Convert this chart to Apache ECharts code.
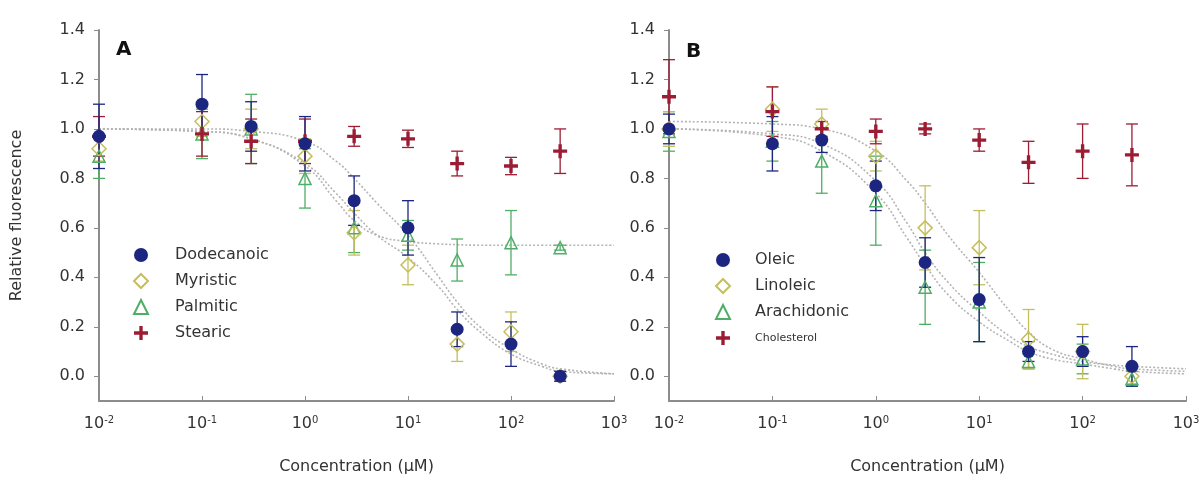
<!DOCTYPE html>
<html>
<head>
<meta charset="utf-8">
<script src="https://cdn.jsdelivr.net/npm/echarts@6/dist/echarts.min.js"></script>
<style>
  html, body { margin: 0; padding: 0; background: #fff; }
  #chart { width: 1204px; height: 480px; }
</style>
</head>
<body>
<div id="chart"></div>
<script>
// concentrations (µM)
const conc = [0.01, 0.1, 0.3, 1, 3, 10, 30, 100, 300];

// panel A
const dodecanoic = [0.97, 1.10, 1.01, 0.94, 0.71, 0.60, 0.19, 0.13, 0.00];
const dodecanoicErr = [0.13, 0.12, 0.10, 0.11, 0.10, 0.11, 0.07, 0.09, 0.02];
const myristic = [0.92, 1.03, 1.00, 0.89, 0.58, 0.45, 0.13, 0.18, 0.00];
const myristicErr = [0.05, 0.06, 0.08, 0.07, 0.09, 0.08, 0.07, 0.08, 0.02];
const palmitic = [0.89, 0.98, 1.00, 0.80, 0.60, 0.57, 0.47, 0.54, 0.52];
const palmiticErr = [0.09, 0.10, 0.14, 0.12, 0.10, 0.06, 0.085, 0.13, 0.01];
const stearic = [0.97, 0.98, 0.95, 0.95, 0.97, 0.96, 0.86, 0.85, 0.91];
const stearicErr = [0.08, 0.09, 0.09, 0.09, 0.04, 0.035, 0.05, 0.035, 0.09];

// panel B
const oleic = [1.00, 0.94, 0.955, 0.77, 0.46, 0.31, 0.10, 0.10, 0.04];
const oleicErr = [0.06, 0.11, 0.05, 0.10, 0.10, 0.17, 0.04, 0.06, 0.08];
const linoleic = [1.00, 1.08, 1.02, 0.89, 0.60, 0.52, 0.15, 0.10, 0.00];
const linoleicErr = [0.07, 0.09, 0.06, 0.06, 0.17, 0.15, 0.12, 0.11, 0.03];
const arachidonic = [0.99, 0.95, 0.87, 0.71, 0.36, 0.30, 0.06, 0.07, -0.01];
const arachidonicErr = [0.08, 0.08, 0.13, 0.18, 0.15, 0.16, 0.03, 0.06, 0.03];
const cholesterol = [1.13, 1.07, 1.00, 0.99, 1.00, 0.955, 0.865, 0.91, 0.895];
const cholesterolErr = [0.15, 0.10, 0.03, 0.05, 0.02, 0.045, 0.085, 0.11, 0.125];

// fitted curves
const fitX = [0.01, 0.1, 0.3, 1, 2, 3, 5, 10, 20, 30, 50, 100, 200, 300, 1000];
const fitDodecanoic = [1.0, 1.0, 0.99, 0.95, 0.87, 0.80, 0.70, 0.57, 0.40, 0.30, 0.20, 0.11, 0.05, 0.03, 0.01];
const fitMyristic = [1.0, 0.99, 0.96, 0.86, 0.74, 0.66, 0.57, 0.48, 0.36, 0.27, 0.18, 0.09, 0.04, 0.02, 0.01];
const fitPalmitic = [1.0, 0.99, 0.96, 0.85, 0.71, 0.63, 0.57, 0.545, 0.535, 0.532, 0.53, 0.53, 0.53, 0.53, 0.53];
const fitOleic = [1.0, 0.98, 0.94, 0.79, 0.62, 0.50, 0.38, 0.26, 0.16, 0.12, 0.09, 0.06, 0.045, 0.04, 0.03];
const fitLinoleic = [1.03, 1.02, 1.0, 0.91, 0.79, 0.70, 0.57, 0.42, 0.26, 0.18, 0.11, 0.07, 0.04, 0.03, 0.02];
const fitArachidonic = [1.0, 0.97, 0.91, 0.74, 0.56, 0.45, 0.33, 0.22, 0.14, 0.10, 0.07, 0.05, 0.03, 0.02, 0.01];

const yTicks = [0, 0.2, 0.4, 0.6, 0.8, 1.0, 1.2, 1.4];

const BLUE = '#1c2680', YELLOW = '#c4bf5c', GREEN = '#4fae66', RED = '#9c1c34';
const FONT = 'DejaVu Sans';
const PLUS = 'path://M3.8,0H6.2V3.8H10V6.2H6.2V10H3.8V6.2H0V3.8H3.8Z';

const chart = echarts.init(document.getElementById('chart'));

function xAxisCfg(idx) {
  return {
    type: 'log', logBase: 10, min: 0.01, max: 1000, gridIndex: idx,
    name: 'Concentration (\u03bcM)', nameLocation: 'middle', nameGap: 58,
    nameTextStyle: { fontFamily: FONT, fontSize: 16, color: '#333' },
    axisLine: { onZero: false, lineStyle: { color: '#8c8c8c', width: 2 } },
    axisTick: { inside: true, length: 5, lineStyle: { color: '#8c8c8c' } },
    splitLine: { show: false },
    axisLabel: {
      margin: 14, fontFamily: FONT, fontSize: 16, color: '#333',
      formatter: function (v) {
        return '10{s|' + Math.round(Math.log10(v)) + '}';
      },
      rich: { s: { fontSize: 10, verticalAlign: 'top', padding: [0, 0, 8, 0], fontFamily: FONT, color: '#333' } }
    }
  };
}

function yAxisCfg(idx, withName) {
  return {
    type: 'value', min: -0.1, max: 1.4, gridIndex: idx,
    name: withName ? 'Relative fluorescence' : '', nameLocation: 'middle', nameGap: 74,
    nameTextStyle: { fontFamily: FONT, fontSize: 16, color: '#333' },
    axisLine: { show: true, onZero: false, lineStyle: { color: '#8c8c8c', width: 2 } },
    axisTick: { show: true, length: 5, customValues: yTicks, lineStyle: { color: '#8c8c8c' } },
    splitLine: { show: false },
    axisLabel: {
      margin: 14, fontFamily: FONT, fontSize: 16, color: '#333',
      customValues: yTicks,
      formatter: function (v) { return v.toFixed(1); }
    }
  };
}

function errSeries(name, vals, errs, color, idx) {
  return {
    name: name + ' err', type: 'custom', xAxisIndex: idx, yAxisIndex: idx,
    data: conc.map((c, i) => [c, vals[i] - errs[i], vals[i] + errs[i]]),
    encode: { x: 0, y: [1, 2] },
    silent: true, z: 2,
    renderItem: function (params, api) {
      const lo = api.coord([api.value(0), api.value(1)]);
      const hi = api.coord([api.value(0), api.value(2)]);
      const w = 6;
      const st = { stroke: color, lineWidth: 1.3 };
      return {
        type: 'group',
        children: [
          { type: 'line', shape: { x1: lo[0], y1: lo[1], x2: hi[0], y2: hi[1] }, style: st },
          { type: 'line', shape: { x1: lo[0] - w, y1: lo[1], x2: lo[0] + w, y2: lo[1] }, style: st },
          { type: 'line', shape: { x1: hi[0] - w, y1: hi[1], x2: hi[0] + w, y2: hi[1] }, style: st }
        ]
      };
    }
  };
}

function fitSeries(name, vals, idx) {
  return {
    name: name + ' fit', type: 'line', xAxisIndex: idx, yAxisIndex: idx,
    data: fitX.map((x, i) => [x, vals[i]]),
    smooth: 0.5, showSymbol: false, silent: true, z: 1,
    lineStyle: { color: '#b4b4b4', width: 1.6, type: [2, 2] }
  };
}

function pointSeries(name, vals, idx, symbol, size, color, hollow) {
  return {
    name: name, type: 'scatter', xAxisIndex: idx, yAxisIndex: idx,
    data: conc.map((c, i) => [c, vals[i]]),
    symbol: symbol, symbolSize: size, z: 3,
    itemStyle: hollow
      ? { color: 'rgba(255,255,255,0)', borderColor: color, borderWidth: 1.5, opacity: 1 }
      : { color: color, opacity: 1 }
  };
}

const option = {
  animation: false,
  textStyle: { fontFamily: FONT },
  title: [
    { text: 'A', left: 111, top: 35, textStyle: { fontFamily: FONT, fontSize: 20, fontWeight: 'bold', color: '#111' } },
    { text: 'B', left: 681, top: 37, textStyle: { fontFamily: FONT, fontSize: 20, fontWeight: 'bold', color: '#111' } }
  ],
  grid: [
    { left: 99, width: 515, top: 30, height: 371 },
    { left: 669, width: 517, top: 30, height: 371 }
  ],
  xAxis: [xAxisCfg(0), xAxisCfg(1)],
  yAxis: [yAxisCfg(0, true), yAxisCfg(1, false)],
  legend: [
    {
      data: ['Dodecanoic', 'Myristic', 'Palmitic', 'Stearic'],
      orient: 'vertical', left: 128, top: 242, itemWidth: 14, itemHeight: 14, itemGap: 10,
      selectedMode: false,
      textStyle: { fontFamily: FONT, fontSize: 16, color: '#333', padding: [0, 0, 0, 22], lineHeight: 16 }
    },
    {
      data: ['Oleic', 'Linoleic', 'Arachidonic', 'Cholesterol'],
      orient: 'vertical', left: 710, top: 247, itemWidth: 14, itemHeight: 14, itemGap: 10,
      selectedMode: false,
      formatter: function (n) { return n === 'Cholesterol' ? '{s|' + n + '}' : n; },
      textStyle: {
        fontFamily: FONT, fontSize: 16, color: '#333', padding: [0, 0, 0, 20], lineHeight: 16,
        rich: { s: { fontSize: 11, fontFamily: FONT, color: '#333' } }
      }
    }
  ],
  series: [
    fitSeries('Dodecanoic', fitDodecanoic, 0),
    fitSeries('Myristic', fitMyristic, 0),
    fitSeries('Palmitic', fitPalmitic, 0),
    fitSeries('Oleic', fitOleic, 1),
    fitSeries('Linoleic', fitLinoleic, 1),
    fitSeries('Arachidonic', fitArachidonic, 1),

    errSeries('Palmitic', palmitic, palmiticErr, GREEN, 0),
    errSeries('Myristic', myristic, myristicErr, YELLOW, 0),
    errSeries('Stearic', stearic, stearicErr, RED, 0),
    errSeries('Dodecanoic', dodecanoic, dodecanoicErr, BLUE, 0),
    errSeries('Arachidonic', arachidonic, arachidonicErr, GREEN, 1),
    errSeries('Linoleic', linoleic, linoleicErr, YELLOW, 1),
    errSeries('Cholesterol', cholesterol, cholesterolErr, RED, 1),
    errSeries('Oleic', oleic, oleicErr, BLUE, 1),

    pointSeries('Palmitic', palmitic, 0, 'triangle', 12, GREEN, true),
    pointSeries('Myristic', myristic, 0, 'diamond', 14, YELLOW, true),
    pointSeries('Stearic', stearic, 0, PLUS, 14, RED, false),
    pointSeries('Dodecanoic', dodecanoic, 0, 'circle', 13, BLUE, false),
    pointSeries('Arachidonic', arachidonic, 1, 'triangle', 12, GREEN, true),
    pointSeries('Linoleic', linoleic, 1, 'diamond', 14, YELLOW, true),
    pointSeries('Cholesterol', cholesterol, 1, PLUS, 14, RED, false),
    pointSeries('Oleic', oleic, 1, 'circle', 13, BLUE, false)
  ]
};

chart.setOption(option);
</script>
</body>
</html>
